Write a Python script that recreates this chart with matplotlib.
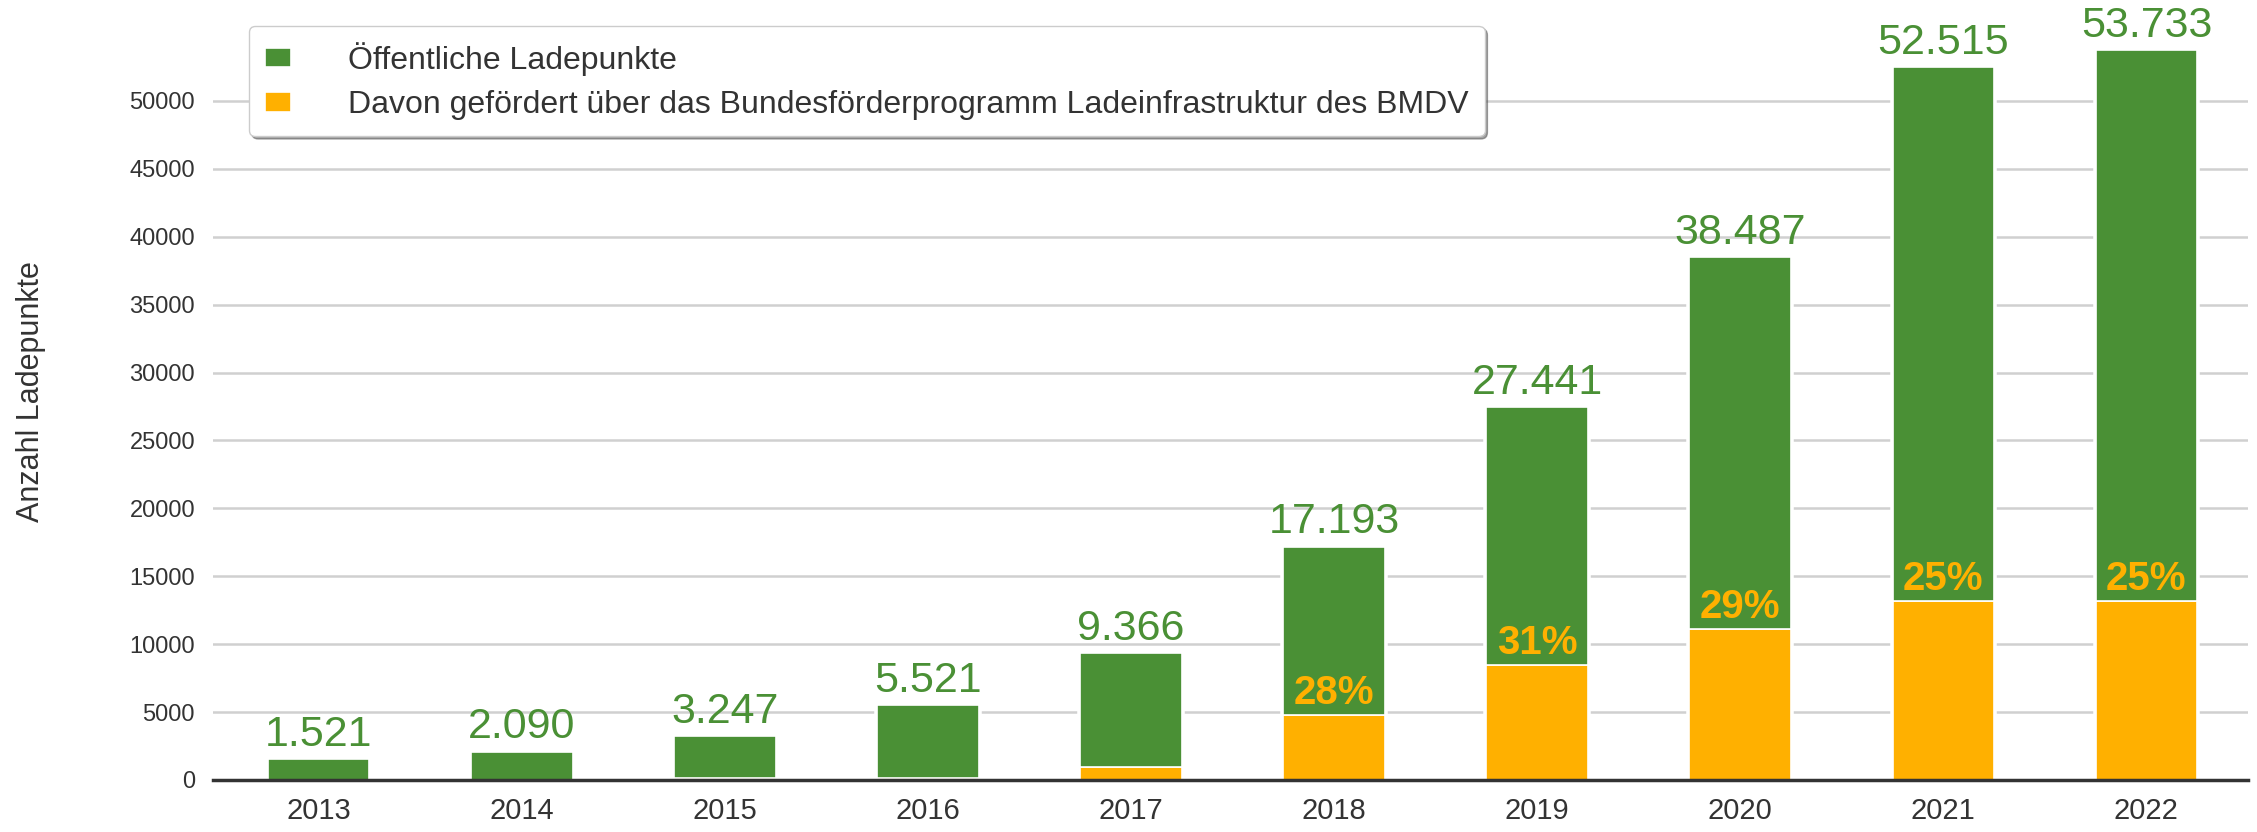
import numpy as np
import matplotlib.pyplot as plt

# ==========================================
# Data
# ==========================================

years = ["2013", "2014", "2015", "2016", "2017", "2018", "2019", "2020", "2021", "2022"]
public_points = [1521, 2090, 3247, 5521, 9366, 17193, 27441, 38487, 52515, 53733]
funded_points = [0, 0, 150, 150, 950, 4800, 8480, 11120, 13200, 13200]
funded_share = ["", "", "", "", "", "28%", "31%", "29%", "25%", "25%"]

green = "#4a9035"
orange = "#ffb000"

plt.rcParams["font.family"] = ["Liberation Sans", "DejaVu Sans"]

# ==========================================
# Figure
# ==========================================

fig = plt.figure(figsize=(22.57, 8.32), dpi=100)
ax = fig.add_axes([0.0944, 0.0625, 0.9016, 0.8945])

x = np.arange(len(years))
public = np.array(public_points)
funded = np.array(funded_points)

# white halo so the gridlines stop short of the bars
ax.bar(x, public, width=0.5, color="white", edgecolor="white", linewidth=4, zorder=2)
ax.bar(x, funded, width=0.5, color=orange, edgecolor="white", linewidth=1.2,
       label="Davon gefördert über das Bundesförderprogramm Ladeinfrastruktur des BMDV", zorder=3)
ax.bar(x, public - funded, bottom=funded, width=0.5, color=green, edgecolor="white",
       linewidth=1.2, label="Öffentliche Ladepunkte", zorder=3)

for xi, total, f, share in zip(x, public, funded, funded_share):
    ax.annotate(f"{total:,}".replace(",", "."), (xi, total), xytext=(0, 3),
                textcoords="offset points", ha="center", va="bottom",
                fontsize=31, color=green, annotation_clip=False)
    if share:
        ax.annotate(share, (xi, f), xytext=(0, 2), textcoords="offset points",
                    ha="center", va="bottom", fontsize=29, fontweight="bold",
                    color=orange)

ax.set_xlim(-0.52, 9.5)
ax.set_ylim(0, 54800)
ax.set_yticks(np.arange(0, 50001, 5000))
ax.set_xticks(x)
ax.set_xticklabels(years)
ax.tick_params(axis="y", length=0, labelsize=17, colors="#333333", pad=13)
ax.tick_params(axis="x", length=0, labelsize=21, colors="#333333", pad=12)

ax.grid(axis="y", color="#d0d0d0", linewidth=1.8, zorder=0)
ax.set_axisbelow(True)
for side in ["top", "right", "left"]:
    ax.spines[side].set_visible(False)
ax.spines["bottom"].set_color("#333333")
ax.spines["bottom"].set_linewidth(2.5)
ax.spines["bottom"].set_zorder(4)

ax.set_ylabel("Anzahl Ladepunkte", fontsize=22, color="#333333")
ax.yaxis.set_label_coords(-0.082, 0.522)

handles, labels = ax.get_legend_handles_labels()
leg = ax.legend(handles[::-1], labels[::-1], loc="upper left",
                bbox_to_anchor=(249 / 2257, 1 - 26 / 832), bbox_transform=fig.transFigure,
                fontsize=23, frameon=True, shadow=True, fancybox=True,
                handlelength=0.8, handleheight=0.55, borderpad=0.5, labelspacing=0.45,
                handletextpad=1.8, borderaxespad=0)
leg.get_frame().set_edgecolor("#cccccc")
for t in leg.get_texts():
    t.set_color("#333333")

plt.savefig("out.png", dpi=100)
plt.close()
